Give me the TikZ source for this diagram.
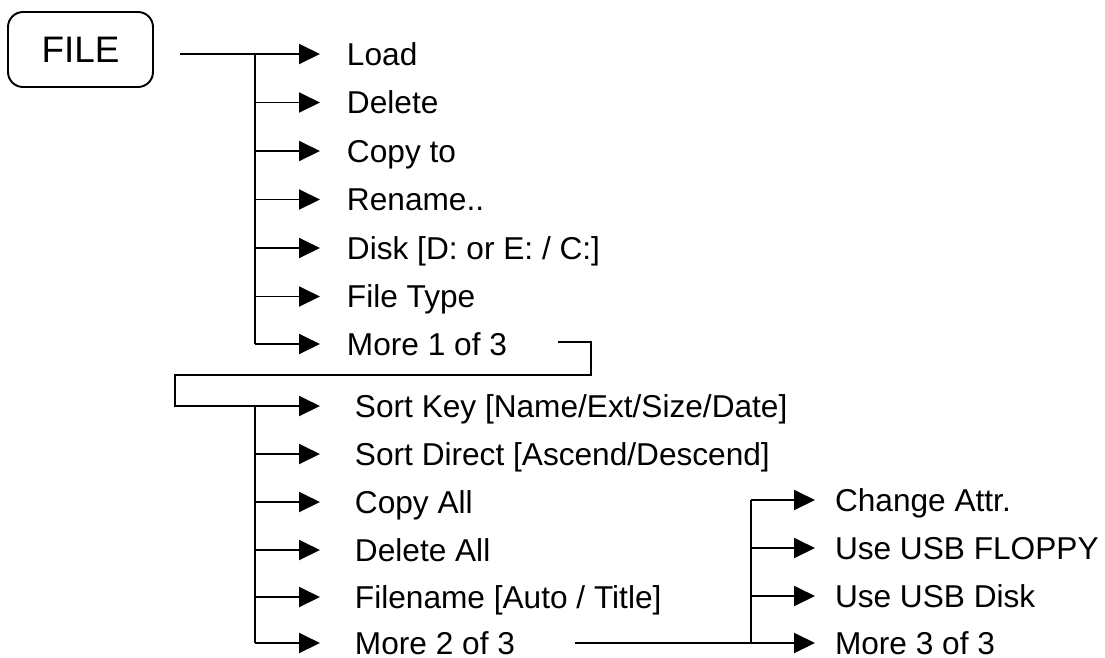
\documentclass[tikz,border=0pt]{standalone}
\usepackage{fontspec}
\setmainfont{Liberation Sans}
\usepackage{tikz}
\usetikzlibrary{arrows.meta,calc}

\begin{document}
\begin{tikzpicture}[x=0.02cm, y=-0.02cm,
    line/.style={line width=1.1pt},
    link/.style={line width=1.1pt, -{Triangle[length=0.42cm, width=0.4cm]}},
    filebox/.style={draw, line width=1.1pt, rounded corners=0.3cm,
      minimum width=2.9cm, minimum height=1.5cm, outer sep=0pt,
      font=\fontsize{21}{25}\selectfont},
    item/.style={anchor=west, inner ysep=0pt, inner xsep=#1, outer sep=0pt,
      text height=12.9pt, text depth=0pt,
      font=\fontsize{18}{21}\selectfont}]
  \useasboundingbox (0,0) rectangle (1105,657);

  \node[filebox] (file) at (80.5,49.5) {FILE};

  % first menu page
  \node[item=0.54cm] (load)    at (320,54)    {Load};
  \node[item=0.54cm] (delete)  at (320,102.5) {Delete};
  \node[item=0.54cm] (copyto)  at (320,151)   {Copy to};
  \node[item=0.54cm] (rename)  at (320,199.5) {Rename..};
  \node[item=0.54cm] (disk)    at (320,248)   {Disk [D: or E: / C:]};
  \node[item=0.54cm] (ftype)   at (320,296.5) {File Type};
  \node[item=0.54cm] (more1)   at (320,344)   {More 1 of 3};

  % second menu page
  \node[item=0.7cm] (sortkey) at (320,406)   {Sort Key [Name/Ext/Size/Date]};
  \node[item=0.7cm] (sortdir) at (320,454)   {Sort Direct [Ascend/Descend]};
  \node[item=0.7cm] (copyall) at (320,502)   {Copy All};
  \node[item=0.7cm] (delall)  at (320,550)   {Delete All};
  \node[item=0.7cm] (fname)   at (320,597)   {Filename [Auto / Title]};
  \node[item=0.7cm] (more2)   at (320,643)   {More 2 of 3};

  % third menu page
  \node[item=0.4cm] (attr)    at (815,500)   {Change Attr.};
  \node[item=0.4cm] (floppy)  at (815,548)   {Use USB FLOPPY};
  \node[item=0.4cm] (usbdisk) at (815,596)   {Use USB Disk};
  \node[item=0.4cm] (more3)   at (815,643)   {More 3 of 3};

  \coordinate (t1) at (255,54);
  \coordinate (t2) at (255,406);
  \coordinate (t3) at (751,500);
  \coordinate (r1) at (558,342);
  \coordinate (r2) at (591,375);
  \coordinate (r3) at (175,375);
  \coordinate (m2) at (575,643);

  \draw[link, shorten <=0.54cm] (file.east |- load) -- (load);
  \draw[line] (t1) -- (t1 |- more1);
  \foreach \n in {delete,copyto,rename,disk,ftype,more1}
    \draw[link] (t1 |- \n) -- (\n);

  \draw[link] (r1) -| (r2) -- (r3) |- (sortkey);
  \draw[line] (t2) -- (t2 |- more2);
  \foreach \n in {sortdir,copyall,delall,fname,more2}
    \draw[link] (t2 |- \n) -- (\n);

  \draw[link] (m2) -- (more3);
  \draw[line] (t3) -- (t3 |- more3);
  \foreach \n in {attr,floppy,usbdisk}
    \draw[link] (t3 |- \n) -- (\n);
\end{tikzpicture}
\end{document}
